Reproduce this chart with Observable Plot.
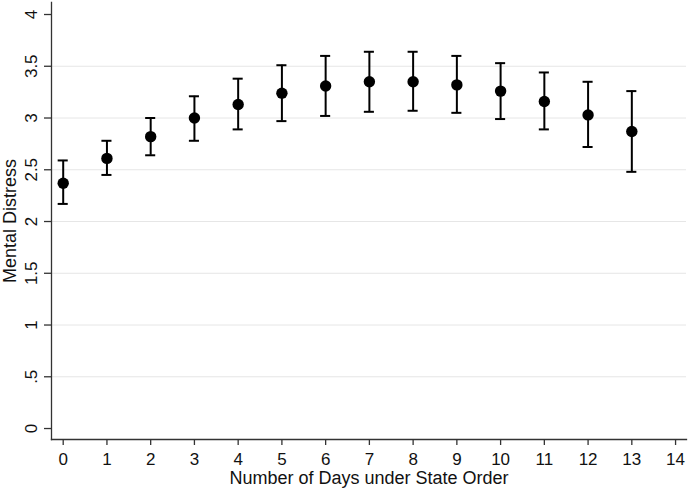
<!DOCTYPE html>
<html>
<head>
<meta charset="utf-8">
<script src="https://cdn.jsdelivr.net/npm/d3@7"></script>
<script src="https://cdn.jsdelivr.net/npm/@observablehq/plot@0.6"></script>
<style>
  html, body { margin: 0; padding: 0; background: #fff; }
</style>
</head>
<body>
<div id="chart"></div>
<script>
const days = [0, 1, 2, 3, 4, 5, 6, 7, 8, 9, 10, 11, 12, 13];
const mean = [2.37, 2.61, 2.82, 3.00, 3.13, 3.24, 3.31, 3.35, 3.35, 3.32, 3.26, 3.16, 3.03, 2.87];
const upper = [2.59, 2.78, 3.00, 3.21, 3.38, 3.51, 3.60, 3.64, 3.64, 3.60, 3.53, 3.44, 3.35, 3.26];
const lower = [2.17, 2.45, 2.64, 2.78, 2.89, 2.97, 3.02, 3.06, 3.07, 3.05, 2.99, 2.89, 2.72, 2.48];

const xTicks = [0, 1, 2, 3, 4, 5, 6, 7, 8, 9, 10, 11, 12, 13, 14];
const yTicks = [0, 0.5, 1, 1.5, 2, 2.5, 3, 3.5, 4];
const yTickLabels = ["0", ".5", "1", "1.5", "2", "2.5", "3", "3.5", "4"];
const yGrid = [0.5, 1, 1.5, 2, 2.5, 3, 3.5];

const xLabel = "Number of Days under State Order";
const yLabel = "Mental Distress";

const data = days.map((d, i) => ({day: d, mean: mean[i], lo: lower[i], hi: upper[i]}));
const capHalf = 0.115;
const axisColor = "#333";
const textColor = "#111";
const font = "Helvetica, Arial, 'Liberation Sans', sans-serif";

const chart = Plot.plot({
  width: 689,
  height: 491,
  marginLeft: 51,
  marginRight: 3,
  marginTop: 2,
  marginBottom: 52,
  style: {fontFamily: font, fontSize: "17px", color: textColor, background: "#fff"},
  x: {domain: [-0.2675, 14.25]},
  y: {domain: [-0.106, 4.116]},
  marks: [
    Plot.gridY(yGrid, {stroke: "#e6e6e6", strokeOpacity: 1, strokeWidth: 1}),
    Plot.frame({anchor: "left", stroke: axisColor, strokeWidth: 1.3}),
    Plot.frame({anchor: "bottom", stroke: axisColor, strokeWidth: 1.3}),
    Plot.axisX(xTicks, {tickSize: 6, stroke: axisColor, strokeWidth: 1.3, tickFormat: () => "", label: null}),
    Plot.axisY(yTicks, {tickSize: 7, stroke: axisColor, strokeWidth: 1.3, tickFormat: () => "", label: null}),
    Plot.text(xTicks, {x: (d) => d, frameAnchor: "bottom", dy: 20, lineAnchor: "middle", text: (d) => String(d), fontSize: 17, fill: textColor}),
    Plot.text(yTicks, {y: (d) => d, frameAnchor: "left", dx: -20, rotate: -90, textAnchor: "middle", lineAnchor: "middle",
      text: (d, i) => yTickLabels[i], fontSize: 17, fill: textColor}),
    Plot.text([xLabel], {frameAnchor: "bottom", dy: 44, text: (d) => d, fontSize: 18, fill: textColor}),
    Plot.text([yLabel], {frameAnchor: "left", dx: -41, rotate: -90, textAnchor: "middle", text: (d) => d, fontSize: 18, fill: textColor}),
    Plot.ruleX(data, {x: "day", y1: "lo", y2: "hi", stroke: "#000", strokeWidth: 2}),
    Plot.ruleY(data, {y: "hi", x1: (d) => d.day - capHalf, x2: (d) => d.day + capHalf, stroke: "#000", strokeWidth: 2}),
    Plot.ruleY(data, {y: "lo", x1: (d) => d.day - capHalf, x2: (d) => d.day + capHalf, stroke: "#000", strokeWidth: 2}),
    Plot.dot(data, {x: "day", y: "mean", r: 5.7, fill: "#000", stroke: "none"})
  ]
});
document.getElementById("chart").appendChild(chart);
</script>
</body>
</html>
